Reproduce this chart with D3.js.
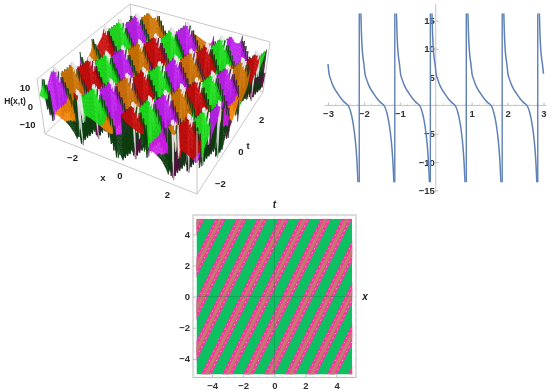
<!DOCTYPE html>
<html>
<head>
<meta charset="utf-8">
<script src="https://cdn.jsdelivr.net/npm/d3@7"></script>
<style>
  html, body { margin: 0; padding: 0; background: #fff; }
  svg { display: block; }
  text { font-family: "Liberation Sans", Arial, sans-serif; fill: #222; }
  .axis path, .axis line { stroke: #b4b4b4; stroke-width: 0.8; }
  .axis text { font-size: 9.5px; font-weight: bold; fill: #333; }
  .minor line { stroke: #c8c8c8; stroke-width: 0.6; }
</style>
</head>
<body>
<svg id="chart" width="550" height="391"></svg>
<script>
// ---- line plot values
const polePositions = [-3.13, -2.13, -1.14, -0.15, 0.85, 1.85, 2.84];
const branchOffsets = [0.045, 0.06, 0.08, 0.11, 0.13, 0.16, 0.2, 0.25, 0.3, 0.4, 0.5, 0.6, 0.7, 0.76, 0.82, 0.87, 0.91, 0.94, 0.965];
const branchValues = [16.3, 13, 10.2, 8.2, 7.3, 5.6, 4.7, 3.8, 3.1, 2.1, 1.2, 0.5, -0.1, -1.1, -2.8, -5, -7.5, -10.3, -13.6];
const lineXTicks = [-3, -2, -1, 1, 2, 3];
const lineYTicks = [-15, -10, -5, 5, 10, 15];

// ---- contour plot bands, x position of each stripe where t = 0
const bandCentres = [-8.65, -7.3, -5.95, -4.6, -3.27, -1.88, -0.53, 0.82, 2.17, 3.52, 4.87, 6.2, 7.55, 8.9];
const bandLayers = [0.33, 0.12];
const contourTicks = [-4, -2, 0, 2, 4];

// ---- surface: one period of the height profile along each direction
const pPhase = [0, 0.04, 0.1, 0.25, 0.5, 0.7, 0.85, 0.95, 1];
const pHeight = [12, 10.5, 8, 5.5, 1.5, -2, -5, -9, -12];
const qPhase = [0, 0.03, 0.06, 0.1, 0.2, 0.35, 0.5, 0.65, 0.8, 0.9, 0.94, 0.97, 1];
const qHeight = [10, 7, 4.5, 3, 1.5, 0.7, 0.2, -0.3, -0.9, -1.6, -3, -6, -10];
const faceColors = ['#1ee01e', '#c020f0', '#d07408', '#c80a0a'];
const patchColors = ['#f08408', '#1ee01e', '#f08408', '#d020e8'];
const shadowColors = ['#0a3c10', '#0a3c10', '#5c0a48', '#0a3c10'];
const surfaceXTicks = [-2, 0, 2];
const surfaceTTicks = [-2, 0, 2];
const surfaceZTicks = [-10, 0, 10];

const svg = d3.select('#chart');
const defs = svg.append('defs');
defs.append('filter').attr('id', 'soft').attr('x', '-5%').attr('y', '-5%').attr('width', '110%').attr('height', '110%')
  .append('feGaussianBlur').attr('stdDeviation', 0.4);

drawSurface();
drawLinePlot();
drawContour();

function drawSurface() {
  const g = svg.append('g').attr('filter', 'url(#soft)');

  // box corners on screen, named by which end of x and t they sit at
  const low = { mm: [45, 134], pm: [197, 194], pp: [263, 92], mp: [134, 48] };
  const high = { mm: [37, 79], pm: [197, 131], pp: [270, 42], mp: [130, 4] };
  const xRange = 3.2, tRange = 3.2, zRange = 15;
  const xNorm = d3.scaleLinear().domain([-xRange, xRange]).range([0, 1]);
  const tNorm = d3.scaleLinear().domain([-tRange, tRange]).range([0, 1]);
  const zNorm = d3.scaleLinear().domain([-zRange, zRange]).range([0, 1]).clamp(true);

  const plane = (c, a, b) => [0, 1].map(k =>
    (1 - a) * (1 - b) * c.mm[k] + a * (1 - b) * c.pm[k] + a * b * c.pp[k] + (1 - a) * b * c.mp[k]);
  const project = (x, t, z) => {
    const a = xNorm(x), b = tNorm(t), h = zNorm(z);
    const p0 = plane(low, a, b), p1 = plane(high, a, b);
    return [p0[0] + (p1[0] - p0[0]) * h, p0[1] + (p1[1] - p0[1]) * h];
  };

  const edge = (p, q) => g.append('line')
    .attr('x1', p[0]).attr('y1', p[1]).attr('x2', q[0]).attr('y2', q[1])
    .attr('stroke', '#c2c2c2').attr('stroke-width', 0.9);

  // back edges go under the surface
  edge(low.mm, low.mp); edge(low.mp, low.pp); edge(low.mp, high.mp);
  edge(high.mm, high.mp); edge(high.mp, high.pp);

  const pLookup = d3.scaleLinear().domain(pPhase).range(pHeight);
  const qLookup = d3.scaleLinear().domain(qPhase).range(qHeight);
  const frac = v => v - Math.floor(v);
  const pOf = (x, t) => (x - t / 2) / 1.9 + 0.1;
  const qOf = (x, t) => -(x + 1.5 * t) / 1.3 + 0.2;
  const height = (x, t) => pLookup(frac(pOf(x, t))) + qLookup(frac(qOf(x, t)));

  const step = 0.05;
  const xs = d3.range(-xRange, xRange - 0.001, step);
  const ts = d3.range(tRange, -tRange + 0.001, -step);
  const pick = (arr, k) => arr[((k % arr.length) + arr.length) % arr.length];
  const cells = [];
  xs.forEach(x => ts.forEach(t => {
    const corners = [[x, t], [x + step, t], [x + step, t - step], [x, t - step]]
      .map(c => [c[0], c[1], height(c[0], c[1])]);
    const zs = corners.map(c => c[2]);
    const cx = x + step / 2, ct = t - step / 2;
    const zMid = height(cx, ct);
    const ip = Math.floor(pOf(cx, ct)), iq = Math.floor(qOf(cx, ct));
    const phase = frac(pOf(cx, ct));
    let fill;
    if (d3.max(zs) >= zRange) fill = '#e6e6e6';
    else if (d3.max(zs) - d3.min(zs) > 12 || zMid < -3.5) fill = pick(shadowColors, iq + ip);
    else if (phase > 0.55) fill = pick(patchColors, iq + ip);
    else fill = pick(faceColors, 2 * ip - iq);
    cells.push({ corners, fill });
  }));

  g.append('g').selectAll('path')
    .data(cells)
    .join('path')
    .attr('d', d => d3.line()(d.corners.map(c => project(c[0], c[1], c[2]))) + 'Z')
    .attr('fill', d => d.fill)
    .attr('stroke', d => d.fill)
    .attr('stroke-width', 0.3);

  // front edges over the surface
  edge(low.mm, low.pm); edge(low.pm, low.pp); edge(low.mm, high.mm); edge(low.pm, high.pm); edge(low.pp, high.pp);

  const label = (p, txt, size) => g.append('text')
    .attr('x', p[0]).attr('y', p[1]).attr('text-anchor', 'middle').attr('dy', '.35em')
    .attr('font-size', size || 9.5).attr('font-weight', 'bold').attr('fill', '#333').text(txt);

  surfaceXTicks.forEach(v => {
    const p = project(v, -tRange, -zRange);
    label([p[0] - 1, p[1] + 12], d3.format('d')(v));
  });
  surfaceTTicks.forEach(v => {
    const p = project(xRange, v, -zRange);
    label([p[0] + 11, p[1] + 9], d3.format('d')(v));
  });
  surfaceZTicks.forEach(v => {
    const p = project(-xRange, -tRange, v);
    g.append('text').attr('x', p[0] - 8).attr('y', p[1]).attr('dy', '.35em').attr('text-anchor', 'end')
      .attr('font-size', 9.5).attr('font-weight', 'bold').attr('fill', '#333').text(d3.format('d')(v));
  });
  label([15, 101], 'H(x,t)', 8.5);
  label([103, 178], 'x');
  label([248, 146], 't');
}

function drawLinePlot() {
  const g = svg.append('g').attr('filter', 'url(#soft)');
  const x = d3.scaleLinear().domain([-3, 3]).range([328, 543.5]);
  const y = d3.scaleLinear().domain([-15, 15]).range([190.3, 20.6]);

  g.append('g').attr('class', 'axis')
    .attr('transform', `translate(0,${y(0)})`)
    .call(d3.axisBottom(x).tickValues(lineXTicks).tickSize(-3).tickPadding(5).tickSizeOuter(0).tickFormat(d3.format('d')))
    .call(a => a.select('.domain').attr('d', `M${x(-3.08)},0H${x(3.08)}`));
  g.append('g').attr('class', 'minor')
    .attr('transform', `translate(0,${y(0)})`)
    .call(d3.axisBottom(x).tickValues(d3.range(-3, 3.01, 0.2)).tickSize(-2).tickFormat(''))
    .call(a => a.select('.domain').remove());
  g.append('g').attr('class', 'axis')
    .attr('transform', `translate(${x(0)},0)`)
    .call(d3.axisLeft(y).tickValues(lineYTicks).tickSize(-3).tickPadding(1).tickSizeOuter(0).tickFormat(d3.format('d')))
    .call(a => a.select('.domain').attr('d', 'M0,4V192'));

  svg.select('defs').append('clipPath').attr('id', 'line-clip')
    .append('rect').attr('x', 320).attr('y', y(16.3)).attr('width', 230).attr('height', y(-13.6) - y(16.3));

  const branch = d3.line().x(d => x(d[0])).y(d => y(d[1])).curve(d3.curveMonotoneX);
  const rows = polePositions.map(p => branchOffsets.map((o, i) => [p + o, branchValues[i]]).filter(d => d[0] >= -3 && d[0] <= 3));
  const lines = g.append('g').attr('clip-path', 'url(#line-clip)');
  lines.selectAll('path.branch')
    .data(rows)
    .join('path')
    .attr('class', 'branch')
    .attr('d', branch)
    .attr('fill', 'none').attr('stroke', '#5e81b5').attr('stroke-width', 1.5);
  lines.selectAll('line.pole')
    .data(polePositions.slice(1))
    .join('line')
    .attr('class', 'pole')
    .attr('x1', d => x(d)).attr('x2', d => x(d))
    .attr('y1', y(16.3)).attr('y2', y(-13.6))
    .attr('stroke', '#5e81b5').attr('stroke-width', 1.4);
}

function drawContour() {
  const g = svg.append('g').attr('filter', 'url(#soft)');
  const x = d3.scaleLinear().domain([-5, 5]).range([196.5, 352.2]);
  const y = d3.scaleLinear().domain([-5, 5]).range([374.5, 218.8]);

  svg.select('defs').append('clipPath').attr('id', 'contour-clip')
    .append('rect').attr('x', x(-5)).attr('y', y(5)).attr('width', x(5) - x(-5)).attr('height', y(-5) - y(5));

  const plot = g.append('g').attr('clip-path', 'url(#contour-clip)');
  plot.append('rect').attr('x', x(-5)).attr('y', y(5)).attr('width', x(5) - x(-5)).attr('height', y(-5) - y(5))
    .attr('fill', '#0cc062');

  const polygon = (c, w) => d3.line()([
    [x(c - w - 2.5), y(-5)], [x(c + w - 2.5), y(-5)], [x(c + w + 2.5), y(5)], [x(c - w + 2.5), y(5)]
  ]) + 'Z';
  const rule = (c, off) => d3.line()([[x(c + off - 2.5), y(-5)], [x(c + off + 2.5), y(5)]]);

  plot.selectAll('path.outer').data(bandCentres).join('path').attr('class', 'outer')
    .attr('d', d => polygon(d, bandLayers[0])).attr('fill', '#f5389e');
  plot.selectAll('path.inner').data(bandCentres).join('path').attr('class', 'inner')
    .attr('d', d => polygon(d, bandLayers[1])).attr('fill', '#c27a6c');
  // mottled edges of the pink stripes
  [-0.23, 0.22].forEach((off, i) => {
    plot.append('g').selectAll('path').data(bandCentres).join('path')
      .attr('d', d => rule(d, off)).attr('fill', 'none')
      .attr('stroke', i ? '#ff9ad0' : '#ff80c4').attr('stroke-width', 1).attr('stroke-dasharray', '1.4 3.6');
  });

  const zero = g.append('g').attr('stroke', '#1a7a48').attr('stroke-width', 0.7).attr('opacity', 0.6);
  zero.append('line').attr('x1', x(0)).attr('x2', x(0)).attr('y1', y(5)).attr('y2', y(-5));
  zero.append('line').attr('x1', x(-5)).attr('x2', x(5)).attr('y1', y(0)).attr('y2', y(0));

  // frame with ticks
  g.append('rect').attr('x', 193).attr('y', 215).attr('width', 163).attr('height', 162.5)
    .attr('fill', 'none').attr('stroke', '#bdbdbd').attr('stroke-width', 1);
  g.append('g').attr('class', 'axis').attr('transform', 'translate(0,377.5)')
    .call(d3.axisBottom(x).tickValues(contourTicks).tickSize(-3).tickPadding(5).tickSizeOuter(0))
    .call(a => a.select('.domain').remove());
  g.append('g').attr('class', 'axis').attr('transform', 'translate(193,0)')
    .call(d3.axisLeft(y).tickValues(contourTicks).tickSize(-3).tickPadding(3).tickSizeOuter(0))
    .call(a => a.select('.domain').remove());
  // minor ticks on all four sides of the frame
  const minors = d3.range(-5, 5.01, 0.5);
  const minor = g.append('g').attr('stroke', '#c8c8c8').attr('stroke-width', 0.5);
  minor.selectAll('line.b').data(minors).join('line').attr('class', 'b')
    .attr('x1', d => x(d)).attr('x2', d => x(d)).attr('y1', 375.8).attr('y2', 377.5);
  minor.selectAll('line.tp').data(minors).join('line').attr('class', 'tp')
    .attr('x1', d => x(d)).attr('x2', d => x(d)).attr('y1', 215).attr('y2', 216.8);
  minor.selectAll('line.l').data(minors).join('line').attr('class', 'l')
    .attr('y1', d => y(d)).attr('y2', d => y(d)).attr('x1', 193).attr('x2', 194.8);
  minor.selectAll('line.r').data(minors).join('line').attr('class', 'r')
    .attr('y1', d => y(d)).attr('y2', d => y(d)).attr('x1', 354.2).attr('x2', 356);

  g.append('text').attr('x', 274.5).attr('y', 208).attr('text-anchor', 'middle')
    .attr('font-size', 10).attr('font-weight', 'bold').attr('font-style', 'italic').text('t');
  g.append('text').attr('x', 365).attr('y', 300).attr('text-anchor', 'middle')
    .attr('font-size', 10).attr('font-weight', 'bold').attr('font-style', 'italic').text('x');
}
</script>
</body>
</html>
